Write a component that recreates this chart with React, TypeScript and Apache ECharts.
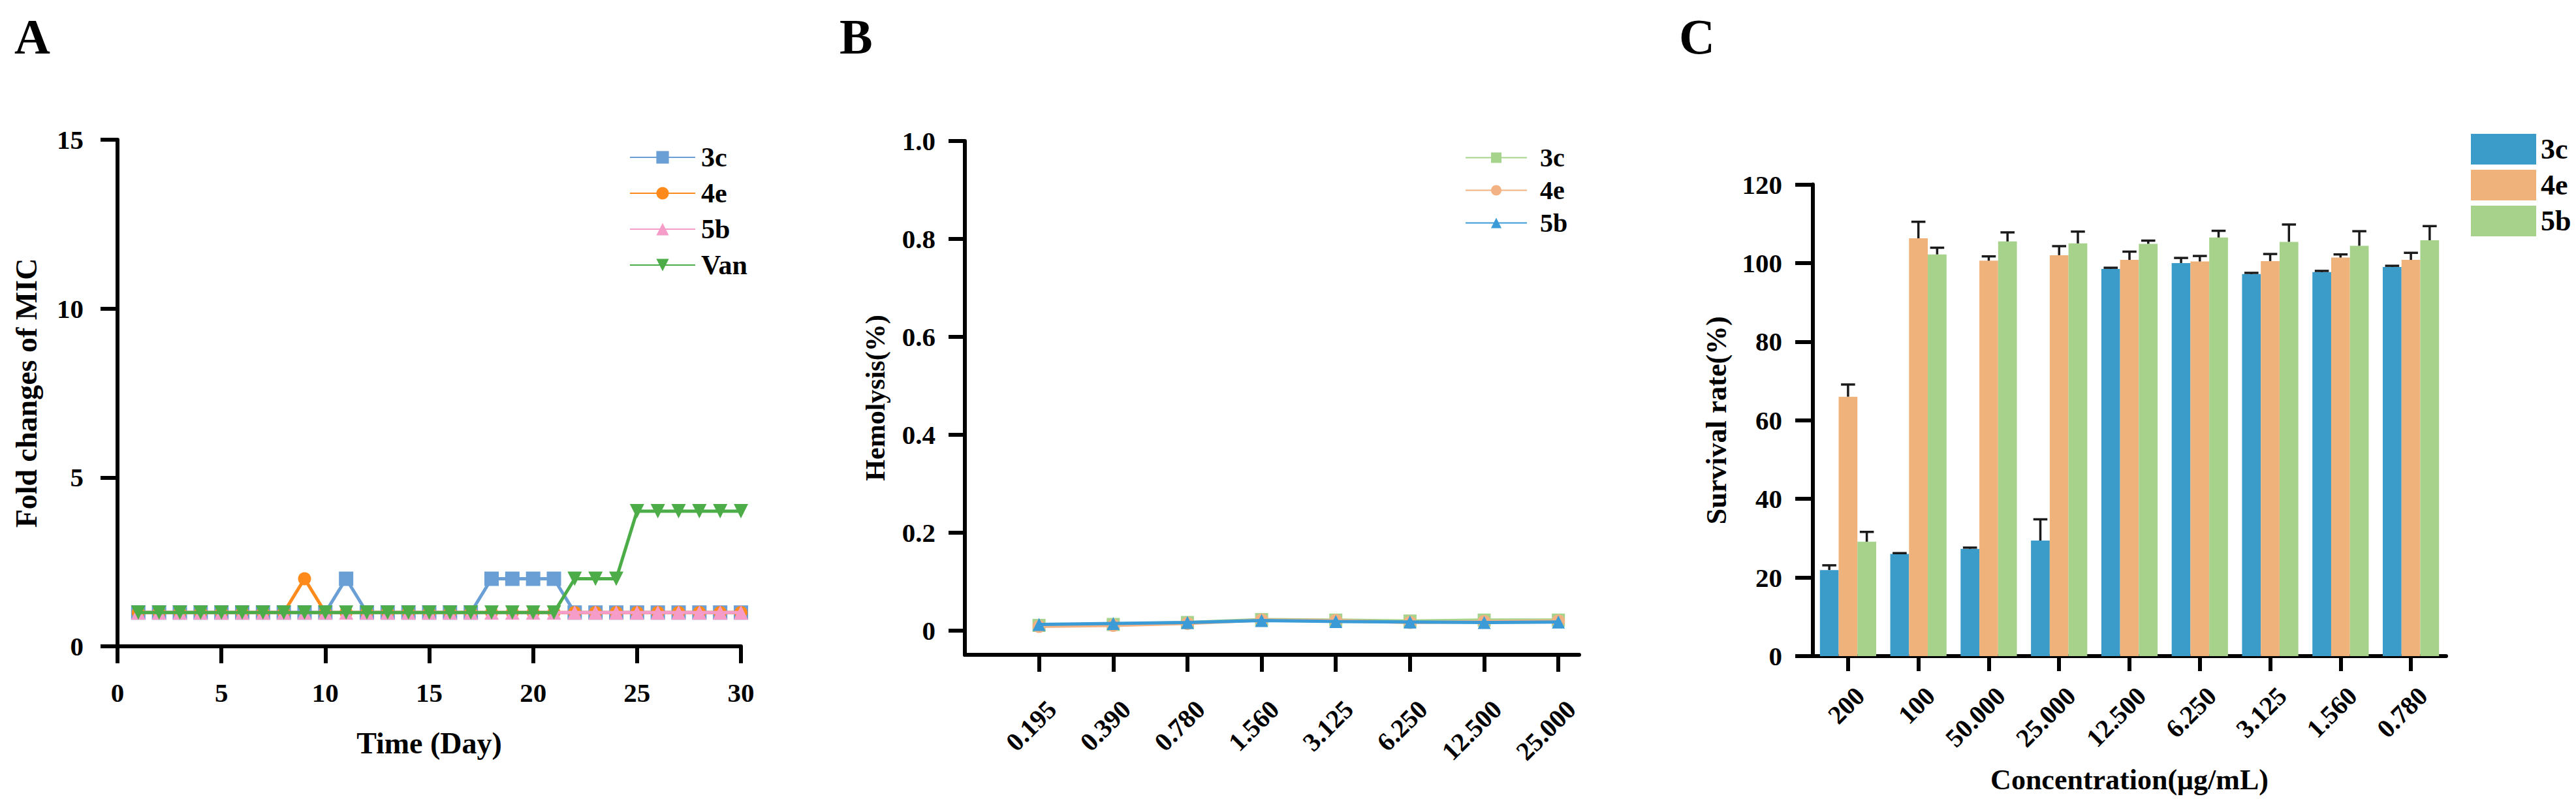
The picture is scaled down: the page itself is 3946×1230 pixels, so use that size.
import React, { useEffect, useRef } from "react";
import * as echarts from "echarts";

const FONT = "'Liberation Serif', 'Times New Roman', serif";

// Panel A: fold changes of MIC over 30 days
const days = [1, 2, 3, 4, 5, 6, 7, 8, 9, 10, 11, 12, 13, 14, 15, 16, 17, 18, 19, 20, 21, 22, 23, 24, 25, 26, 27, 28, 29, 30];
const micSeriesNames = ["3c", "4e", "5b", "Van"];
const mic3c = [1, 1, 1, 1, 1, 1, 1, 1, 1, 1, 2, 1, 1, 1, 1, 1, 1, 2, 2, 2, 2, 1, 1, 1, 1, 1, 1, 1, 1, 1];
const mic4e = [1, 1, 1, 1, 1, 1, 1, 1, 2, 1, 1, 1, 1, 1, 1, 1, 1, 1, 1, 1, 1, 1, 1, 1, 1, 1, 1, 1, 1, 1];
const mic5b = [1, 1, 1, 1, 1, 1, 1, 1, 1, 1, 1, 1, 1, 1, 1, 1, 1, 1, 1, 1, 1, 1, 1, 1, 1, 1, 1, 1, 1, 1];
const micVan = [1, 1, 1, 1, 1, 1, 1, 1, 1, 1, 1, 1, 1, 1, 1, 1, 1, 1, 1, 1, 1, 2, 2, 2, 4, 4, 4, 4, 4, 4];

// Panel B: hemolysis
const hemoCats = ["0.195", "0.390", "0.780", "1.560", "3.125", "6.250", "12.500", "25.000"];
const hemo3c = [0.010, 0.012, 0.016, 0.022, 0.021, 0.019, 0.021, 0.021];
const hemo4e = [0.008, 0.010, 0.014, 0.021, 0.020, 0.016, 0.018, 0.019];
const hemo5b = [0.012, 0.014, 0.016, 0.020, 0.018, 0.017, 0.016, 0.017];

// Panel C: survival rate
const survCats = ["200", "100", "50.000", "25.000", "12.500", "6.250", "3.125", "1.560", "0.780"];
const surv3c = [21.9, 26.0, 27.3, 29.4, 98.5, 100.0, 97.2, 97.7, 99.0];
const surv3cErr = [1.2, 0.2, 0.3, 5.4, 0.3, 1.3, 0.3, 0.3, 0.3];
const surv4e = [66.0, 106.3, 100.6, 102.0, 100.8, 100.4, 100.5, 101.4, 100.8];
const surv4eErr = [3.1, 4.2, 1.1, 2.3, 2.1, 1.4, 1.8, 0.8, 1.8];
const surv5b = [29.1, 102.2, 105.5, 105.0, 104.9, 106.5, 105.4, 104.4, 105.8];
const surv5bErr = [2.5, 1.7, 2.3, 3.0, 0.8, 1.7, 4.4, 3.7, 3.6];

const colorsA = ["#6a9fd6", "#ff8a1c", "#f59cc9", "#4cad48"];
const colorsB = ["#a6d48c", "#f3b283", "#3a9bd6"];
const colorsC = ["#3b9bc9", "#f0b27b", "#a7d28b"];

const strip = (n: string) => n.split(":")[1];

export default function App() {
  const ref = useRef<HTMLDivElement>(null);

  useEffect(() => {
    if (!ref.current) return;
    const chart = echarts.init(ref.current, undefined, { renderer: "svg" });

    const axisLine = { show: true, onZero: false, lineStyle: { color: "#000", width: 6 } };
    const axisTick = { show: true, length: 26, lineStyle: { color: "#000", width: 6 } };
    const tickFont = { fontFamily: FONT, fontWeight: "bold" as const, fontSize: 41, color: "#000" };

    const micData = [mic3c, mic4e, mic5b, micVan];
    const micSymbols = ["rect", "circle", "triangle", "triangle"];
    const seriesA = micSeriesNames.map((n, k) => ({
      name: "A:" + n,
      type: "line",
      xAxisIndex: 0,
      yAxisIndex: 0,
      data: days.map((d, i) => [d, micData[k][i]]),
      symbol: micSymbols[k],
      symbolRotate: k === 3 ? 180 : 0,
      symbolSize: k === 1 ? 20 : 22,
      lineStyle: { color: colorsA[k], width: 5 },
      itemStyle: { color: colorsA[k] },
      z: 2 + k,
    }));

    const hemoData = [hemo3c, hemo4e, hemo5b];
    const hemoSymbols = ["rect", "circle", "triangle"];
    const seriesB = ["3c", "4e", "5b"].map((n, k) => ({
      name: "B:" + n,
      type: "line",
      xAxisIndex: 1,
      yAxisIndex: 1,
      data: hemoCats.map((c, i) => [i + 1, hemoData[k][i]]),
      symbol: hemoSymbols[k],
      symbolSize: 20,
      lineStyle: { color: colorsB[k], width: 5 },
      itemStyle: { color: colorsB[k] },
      z: 2 + k,
    }));

    const survData = [surv3c, surv4e, surv5b];
    const survErr = [surv3cErr, surv4eErr, surv5bErr];
    const seriesC: any[] = ["3c", "4e", "5b"].map((n, k) => ({
      name: "C:" + n,
      type: "bar",
      xAxisIndex: 2,
      yAxisIndex: 2,
      data: survData[k],
      barGap: "0%",
      barCategoryGap: "20%",
      itemStyle: { color: colorsC[k] },
    }));
    [0, 1, 2].forEach((k) => {
      seriesC.push({
        type: "custom",
        name: "err" + k,
        xAxisIndex: 2,
        yAxisIndex: 2,
        data: survCats.map((c, i) => [i, survData[k][i], survErr[k][i]]),
        encode: { x: 0, y: 1 },
        z: 10,
        renderItem: (params: any, api: any) => {
          const xi = api.value(0);
          const m = api.value(1);
          const e = api.value(2);
          const bottom = api.coord([xi, m]);
          const top = api.coord([xi, m + e]);
          const band = api.size([1, 0])[0];
          const barW = (band * 0.8) / 3;
          const cx = bottom[0] + (k - 1) * barW;
          const capW = barW * 0.75;
          const style = { stroke: "#1a1a1a", lineWidth: 3.5 };
          return {
            type: "group",
            children: [
              { type: "line", shape: { x1: cx, y1: bottom[1], x2: cx, y2: top[1] }, style },
              { type: "line", shape: { x1: cx - capW / 2, y1: top[1], x2: cx + capW / 2, y2: top[1] }, style },
            ],
          };
        },
      });
    });

    const legendText = (size: number, padLeft: number) => ({
      fontFamily: FONT,
      fontWeight: "bold" as const,
      fontSize: size,
      lineHeight: size,
      color: "#000",
      padding: [0, 0, 0, padLeft],
    });

    const panelLetter = (txt: string, x: number, y: number) => ({
      type: "text",
      left: x,
      top: y,
      style: { text: txt, fontFamily: FONT, fontWeight: "bold", fontSize: 76, fill: "#000" },
    });

    const option: any = {
      animation: false,
      backgroundColor: "#fff",
      textStyle: { fontFamily: FONT, fontWeight: "bold", color: "#000" },
      graphic: [panelLetter("A", 22, 18), panelLetter("B", 1286, 18), panelLetter("C", 2572, 18)],
      grid: [
        { left: 180, top: 214, width: 955, height: 776 },
        { left: 1478, top: 216, width: 941, height: 787 },
        { left: 2777, top: 282.5, width: 970, height: 722.5 },
      ],
      legend: [
        {
          orient: "vertical",
          left: 959,
          top: 215,
          itemWidth: 100,
          itemHeight: 24,
          itemGap: 13,
          data: micSeriesNames.map((n) => "A:" + n),
          formatter: strip,
          textStyle: legendText(42, 4),
        },
        {
          orient: "vertical",
          left: 2239,
          top: 216.5,
          itemWidth: 94,
          itemHeight: 20,
          itemGap: 10,
          data: ["B:3c", "B:4e", "B:5b"],
          formatter: strip,
          textStyle: legendText(40, 15),
        },
        {
          orient: "vertical",
          left: 3780,
          top: 200,
          itemWidth: 100,
          itemHeight: 47,
          itemGap: 8,
          icon: "rect",
          data: ["C:3c", "C:4e", "C:5b"],
          formatter: strip,
          textStyle: legendText(44, 2),
        },
      ],
      xAxis: [
        {
          gridIndex: 0,
          type: "value",
          min: 0,
          max: 30,
          interval: 5,
          splitLine: { show: false },
          axisLine,
          axisTick,
          axisLabel: { ...tickFont, margin: 50 },
          name: "Time (Day)",
          nameLocation: "middle",
          nameGap: 125,
          nameTextStyle: { fontFamily: FONT, fontWeight: "bold", fontSize: 46, color: "#000" },
        },
        {
          gridIndex: 1,
          type: "value",
          min: 0,
          max: 8.28,
          splitLine: { show: false },
          axisLine,
          axisTick: { ...axisTick, customValues: [1, 2, 3, 4, 5, 6, 7, 8] },
          axisLabel: {
            ...tickFont,
            fontSize: 40,
            rotate: 45,
            margin: 57,
            verticalAlign: "top",
            padding: [8, 0, 0, 0],
            customValues: [1, 2, 3, 4, 5, 6, 7, 8],
            formatter: (v: number) => hemoCats[Math.round(v) - 1] ?? "",
          },
        },
        {
          gridIndex: 2,
          type: "category",
          data: survCats,
          axisLine,
          axisTick: { ...axisTick, length: 23, alignWithLabel: true },
          axisLabel: {
            ...tickFont,
            fontSize: 40,
            rotate: 45,
            interval: 0,
            margin: 36,
            verticalAlign: "top",
            padding: [6, 0, 0, 0],
          },
          name: "Concentration(μg/mL)",
          nameLocation: "middle",
          nameGap: 167,
          nameTextStyle: { fontFamily: FONT, fontWeight: "bold", fontSize: 44, color: "#000" },
        },
      ],
      yAxis: [
        {
          gridIndex: 0,
          type: "value",
          min: 0,
          max: 15,
          interval: 5,
          splitLine: { show: false },
          axisLine,
          axisTick,
          axisLabel: { ...tickFont, margin: 52 },
          name: "Fold changes of MIC",
          nameLocation: "middle",
          nameGap: 117,
          nameTextStyle: { fontFamily: FONT, fontWeight: "bold", fontSize: 46, color: "#000" },
        },
        {
          gridIndex: 1,
          type: "value",
          min: -0.05,
          max: 1.0,
          splitLine: { show: false },
          axisLine,
          axisTick: { ...axisTick, length: 25, customValues: [0, 0.2, 0.4, 0.6, 0.8, 1.0] },
          axisLabel: {
            ...tickFont,
            margin: 45,
            customValues: [0, 0.2, 0.4, 0.6, 0.8, 1.0],
            formatter: (v: number) => (v === 0 ? "0" : v.toFixed(1)),
          },
          name: "Hemolysis(%)",
          nameLocation: "middle",
          nameGap: 116,
          nameTextStyle: { fontFamily: FONT, fontWeight: "bold", fontSize: 42, color: "#000" },
        },
        {
          gridIndex: 2,
          type: "value",
          min: 0,
          max: 120,
          interval: 20,
          splitLine: { show: false },
          axisLine,
          axisTick: { ...axisTick, length: 27 },
          axisLabel: { ...tickFont, margin: 47 },
          name: "Survival rate(%)",
          nameLocation: "middle",
          nameGap: 126,
          nameTextStyle: { fontFamily: FONT, fontWeight: "bold", fontSize: 44, color: "#000" },
        },
      ],
      series: [...seriesA, ...seriesB, ...seriesC],
    };

    chart.setOption(option);
    return () => chart.dispose();
  }, []);

  return (
    <div
      ref={ref}
      style={{ position: "fixed", left: 0, top: 0, width: 3946, height: 1230, background: "#fff" }}
    />
  );
}
